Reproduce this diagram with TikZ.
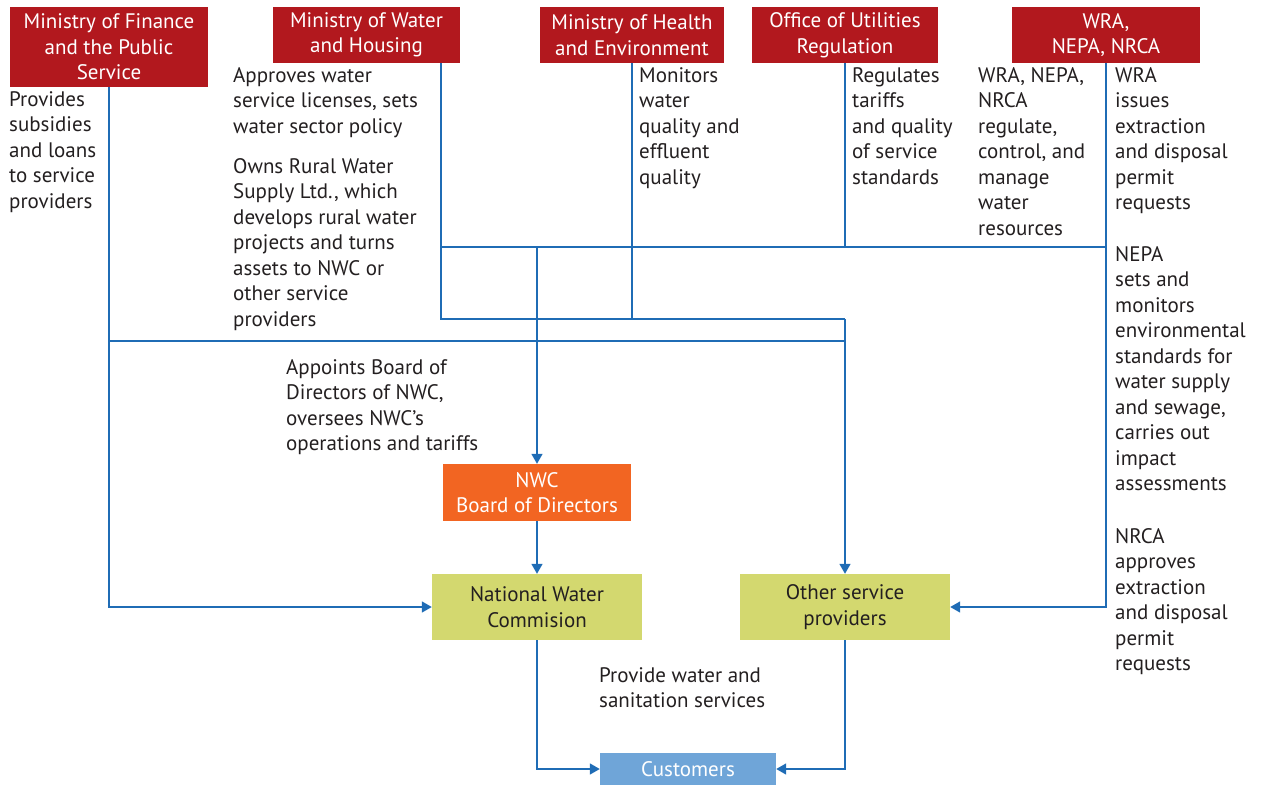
\documentclass[tikz,border=0pt]{standalone}
\usepackage{fontspec}
\setmainfont{PT Sans}
\usetikzlibrary{arrows.meta, positioning}
\definecolor{minred}{HTML}{B2181E}
\definecolor{nwcorange}{HTML}{F26522}
\definecolor{provgreen}{HTML}{D3D86F}
\definecolor{custblue}{HTML}{6FA5D8}
\definecolor{linkblue}{HTML}{1F6CB5}
\definecolor{txtgray}{HTML}{231F20}

\begin{document}
\begin{tikzpicture}[
        x=1pt, y=-1pt,
        every node/.style={font=\fontsize{21}{25.5}\selectfont, text=txtgray, inner sep=0pt},
        link/.style={draw=linkblue, line width=1.5pt},
        arr/.style={link, -{Triangle[length=10pt, width=11pt]}},
        minbox/.style={fill=minred, text=white, align=center, minimum height=56pt},
        provbox/.style={fill=provgreen, align=center, minimum width=210pt, minimum height=66pt},
        note/.style={anchor=north west, align=left},
    ]
    \useasboundingbox (0,0) rectangle (1262,785);

    %% ---- Ministries and regulators (top row) ----
    \node[minbox, minimum width=198pt, minimum height=80pt] (fin) at (109,47)
        {Ministry of Finance\\and the Public\\Service};
    \node[minbox, minimum width=187pt] (wat) at (366.5,35) {Ministry of Water\\and Housing};
    \node[minbox, minimum width=184pt] (hea) at (632,35) {Ministry of Health\\and Environment};
    \node[minbox, minimum width=186pt] (our) at (845,35) {Office of Utilities\\Regulation};
    \node[minbox, minimum width=188pt] (wra) at (1106,35) {WRA,\\NEPA, NRCA};

    %% ---- Providers and customers ----
    \node[fill=nwcorange, text=white, align=center, minimum width=188pt, minimum height=57pt]
        (board) at (537,492.5) {NWC\\Board of Directors};
    \node[provbox] (nwc) at (537,607) {National Water\\Commision};
    \node[provbox] (osp) at (845,607) {Other service\\providers};
    \node[fill=custblue, text=white, minimum width=176pt, minimum height=32pt]
        (cust) at (688,769) {Customers};

    %% ---- Roles ----
    \node[note] (finnote) at (9,91) {Provides\\subsidies\\and loans\\to service\\providers};
    \node[note] (watnote) at (233,67) {Approves water\\service licenses, sets\\water sector policy};
    \node[note] (rwsnote) at (233,158) {Owns Rural Water\\Supply Ltd., which\\develops rural water\\projects and turns\\assets to NWC or\\other service\\providers};
    \node[note] (heanote) at (639,67) {Monitors\\water\\quality and\\effluent\\quality};
    \node[note] (ournote) at (852,67) {Regulates\\tariffs\\and quality\\of service\\standards};
    \node[note] (regnote) at (978,67) {WRA, NEPA,\\NRCA\\regulate,\\control, and\\manage\\water\\resources};
    \node[note] (wranote) at (1115,67) {WRA\\issues\\extraction\\and disposal\\permit\\requests};
    \node[note] (nepanote) at (1115,246) {NEPA\\sets and\\monitors\\environmental\\standards for\\water supply\\and sewage,\\carries out\\impact\\assessments};
    \node[note] (nrcanote) at (1115,528) {NRCA\\approves\\extraction\\and disposal\\permit\\requests};
    \node[note] (boardnote) at (286,359) {Appoints Board of\\Directors of NWC,\\oversees NWC’s\\operations and tariffs};
    \node[note] (servnote) at (599,667) {Provide water and\\sanitation services};

    %% ---- Bus lines ----
    \coordinate (watbus) at (441,247);
    \coordinate (watend) at (441,319);
    \coordinate (wraend) at (1105,247);
    \coordinate (finbus) at (108,341);

    \draw[link] (wat.south -| watend) -- (watend) -- (watend -| osp.north);
    \draw[link] (watbus) -- (wraend);
    \draw[link] (hea.south) -- (hea.south |- watend);
    \draw[link] (our.south) -- (our.south |- watbus);
    \draw[link] (finbus) -- (finbus -| osp.north);

    %% ---- Arrows ----
    \draw[arr] (board.north |- watbus) -- (board.north);
    \draw[arr] (board) -- (nwc);
    \draw[arr] (osp.north |- watend) -- (osp.north);
    \draw[arr] (fin.south) -- (fin.south |- nwc.west) -- (nwc.west);
    \draw[arr] (wra.south) -- (wra.south |- osp.east) -- (osp.east);
    \draw[arr] (nwc.south) -- (nwc.south |- cust.west) -- (cust.west);
    \draw[arr] (osp.south) -- (osp.south |- cust.east) -- (cust.east);

\end{tikzpicture}
\end{document}
